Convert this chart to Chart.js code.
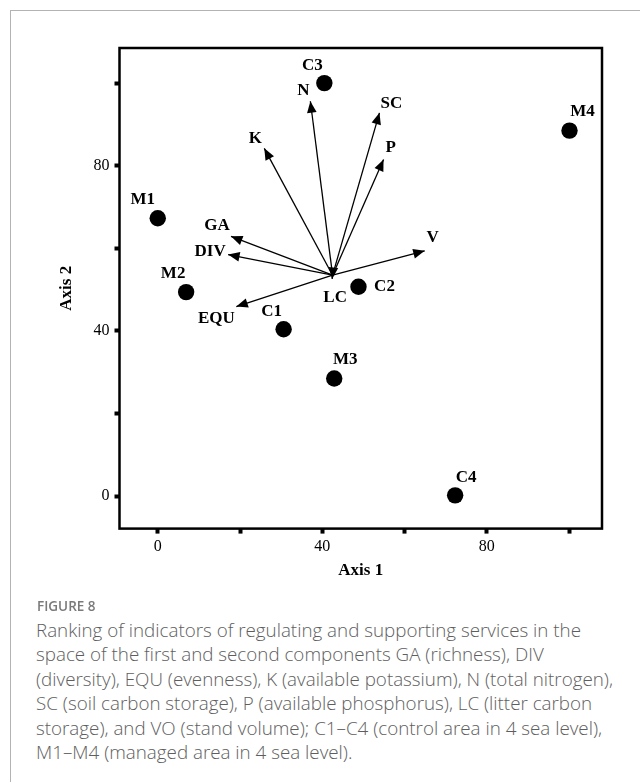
<!DOCTYPE html>
<html>
<head>
<meta charset="utf-8">
<script src="https://cdn.jsdelivr.net/npm/chart.js@4.4.1/dist/chart.umd.min.js"></script>
<style>
  html, body { margin: 0; padding: 0; background: #fff; }
  body { width: 640px; height: 782px; position: relative; overflow: hidden; }
  .card { position: absolute; left: 10px; top: 10px; right: -5px; bottom: -5px;
          border-left: 1px solid #b3b3b3; border-top: 1px solid #b3b3b3; }
  .plot { position: absolute; left: 0; top: 0; width: 640px; height: 600px; }
  .fig { position: absolute; left: 37px; top: 597px; font: 600 13.5px 'Open Sans', sans-serif;
         color: #7a7a7a; }
  .cap { position: absolute; left: 36px; top: 618px; width: 604px; white-space: nowrap;
         font: 300 18.8px/24.4px 'Open Sans', sans-serif; color: #5e5e5e; }
</style>
</head>
<body>
<div class="card"></div>
<div class="plot"><canvas id="chart-pca"></canvas></div>
<div class="fig">FIGURE 8</div>
<div class="cap">Ranking of indicators of regulating and supporting services in the<br>space of the first and second components GA (richness), DIV<br>(diversity), EQU (evenness), K (available potassium), N (total nitrogen),<br>SC (soil carbon storage), P (available phosphorus), LC (litter carbon<br>storage), and VO (stand volume); C1–C4 (control area in 4 sea level),<br>M1–M4 (managed area in 4 sea level).</div>
<script>
// ─── DATA ─────────────────────────────────────────────────────────────────────
const SITE_NAMES  = ['C1', 'C2', 'C3', 'C4', 'M1', 'M2', 'M3', 'M4'];
const SITE_AXIS1  = [30.6, 48.8, 40.5, 72.3, 0.0, 6.9, 42.9, 100.1];
const SITE_AXIS2  = [40.4, 50.7, 100.0, 0.2, 67.3, 49.4, 28.5, 88.5];

const VECTOR_NAMES = ['GA', 'DIV', 'EQU', 'K', 'N', 'SC', 'P', 'LC', 'V'];
const VECTOR_AXIS1 = [17.8, 17.1, 19.1, 25.9, 37.1, 53.9, 54.9, 42.4, 64.9];
const VECTOR_AXIS2 = [62.9, 58.5, 45.9, 84.2, 95.6, 92.8, 81.5, 52.6, 59.4];
const ORIGIN_AXIS1 = 42.5;
const ORIGIN_AXIS2 = 53.5;

const X_TICKS = [0, 20, 40, 60, 80, 100];
const Y_TICKS = [0, 20, 40, 60, 80, 100];
const LABELED_TICKS = [0, 40, 80];

// ─── LABEL PLACEMENT (px offsets from mark) ──────────────────────────────────
const SITE_LABEL_OFFSET = {
  C1:[-12,-18], C2:[26,0], C3:[-12,-18], C4:[11,-18],
  M1:[-15,-19], M2:[-13,-19], M3:[11,-19], M4:[13,-19]
};
const VECTOR_LABEL_OFFSET = {
  GA:[-14,-11], DIV:[-18,-3], EQU:[-20,12], K:[-9,-10], N:[-7,-11],
  SC:[12,-9], P:[7,-12], LC:[3,19], V:[8,-13]
};

Chart.defaults.font.family = "'Liberation Serif', 'Times New Roman', serif";
Chart.defaults.color = '#000';

const LABEL_FONT = "bold 17px 'Liberation Serif', 'Times New Roman', serif";

// ─── PLUGINS ─────────────────────────────────────────────────────────────────
const vectorPlugin = {
  id: 'vectors',
  afterDatasetsDraw(chart) {
    const ctx = chart.ctx;
    ctx.save();
    ctx.fillStyle = '#000';
    ctx.font = LABEL_FONT;
    ctx.textAlign = 'center';
    ctx.textBaseline = 'middle';
    chart.data.datasets.forEach((ds, i) => {
      const meta = chart.getDatasetMeta(i);
      if (ds.kind === 'vector') {
        const p0 = meta.data[0], p1 = meta.data[1];
        const a = Math.atan2(p1.y - p0.y, p1.x - p0.x);
        const len = 11.5, half = 4.8;
        ctx.beginPath();
        ctx.moveTo(p1.x, p1.y);
        ctx.lineTo(p1.x - len * Math.cos(a) + half * Math.sin(a), p1.y - len * Math.sin(a) - half * Math.cos(a));
        ctx.lineTo(p1.x - len * Math.cos(a) - half * Math.sin(a), p1.y - len * Math.sin(a) + half * Math.cos(a));
        ctx.closePath();
        ctx.fill();
        const off = VECTOR_LABEL_OFFSET[ds.label] || [0, 0];
        ctx.fillText(ds.label, p1.x + off[0], p1.y + off[1]);
      } else if (ds.kind === 'site') {
        meta.data.forEach((pt, j) => {
          const name = SITE_NAMES[j];
          const off = SITE_LABEL_OFFSET[name] || [0, -18];
          ctx.fillText(name, pt.x + off[0], pt.y + off[1]);
        });
      }
    });
    ctx.restore();
  }
};

const framePlugin = {
  id: 'frame',
  afterDraw(chart) {
    const { ctx, chartArea: a } = chart;
    ctx.save();
    ctx.strokeStyle = '#000';
    ctx.lineWidth = 2.5;
    ctx.strokeRect(a.left, a.top, a.right - a.left, a.bottom - a.top);
    ctx.restore();
  }
};

// ─── DATASETS ────────────────────────────────────────────────────────────────
const vectorSets = VECTOR_NAMES.map((name, i) => ({
  kind: 'vector',
  label: name,
  data: [{ x: ORIGIN_AXIS1, y: ORIGIN_AXIS2 }, { x: VECTOR_AXIS1[i], y: VECTOR_AXIS2[i] }],
  showLine: true,
  borderColor: '#000',
  borderWidth: 1.3,
  pointRadius: 0,
  fill: false
}));

const siteSet = {
  kind: 'site',
  label: 'Sites',
  data: SITE_NAMES.map((n, i) => ({ x: SITE_AXIS1[i], y: SITE_AXIS2[i] })),
  pointRadius: 8.2,
  pointBackgroundColor: '#000',
  pointBorderColor: '#000',
  pointBorderWidth: 0
};

const tickLabel = v => LABELED_TICKS.includes(v) ? String(v) : '';

new Chart(document.getElementById('chart-pca').getContext('2d'), {
  type: 'scatter',
  data: { datasets: [...vectorSets, siteSet] },
  options: {
    responsive: true, maintainAspectRatio: false, animation: false,
    layout: { padding: { left: 56.5, top: 48, right: 38, bottom: 18.8 } },
    plugins: { legend: { display: false }, tooltip: { enabled: false } },
    scales: {
      x: {
        type: 'linear', min: -9.3, max: 108,
        afterBuildTicks: s => { s.ticks = X_TICKS.map(v => ({ value: v })); },
        ticks: { callback: tickLabel, padding: 4, color: '#000', font: { size: 16 }, maxRotation: 0, autoSkip: false },
        grid: { drawOnChartArea: false, tickLength: 5, tickWidth: 4, tickColor: '#000' },
        border: { display: false },
        title: { display: true, text: 'Axis 1', color: '#000', font: { size: 17, weight: 'bold' }, padding: { top: 0, bottom: 0 } }
      },
      y: {
        type: 'linear', min: -7.85, max: 108.5,
        afterBuildTicks: s => { s.ticks = Y_TICKS.map(v => ({ value: v })); },
        ticks: { callback: tickLabel, padding: 5, color: '#000', font: { size: 16 }, autoSkip: false },
        grid: { drawOnChartArea: false, tickLength: 5, tickWidth: 4, tickColor: '#000' },
        border: { display: false },
        title: { display: true, text: 'Axis 2', color: '#000', font: { size: 17, weight: 'bold' }, padding: { top: 0, bottom: 11.6 } }
      }
    }
  },
  plugins: [vectorPlugin, framePlugin]
});
</script>
</body>
</html>
